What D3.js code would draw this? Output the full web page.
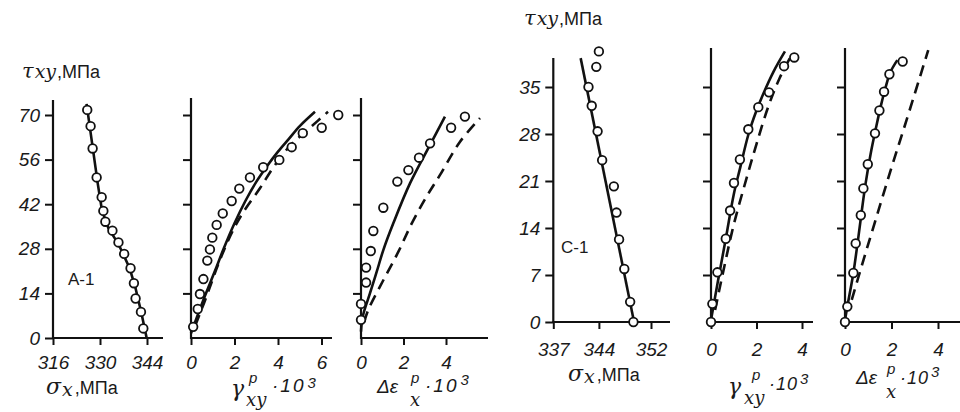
<!DOCTYPE html>
<html><head><meta charset="utf-8">
<script src="https://cdn.jsdelivr.net/npm/d3@7"></script>
<style>
html,body{margin:0;padding:0;background:#fff;}
svg{display:block;}
.tk text{font-family:"Liberation Sans",Arial,sans-serif;font-style:italic;font-size:19px;fill:#1a1a1a;}
.tk line{stroke:#111;stroke-width:2;}
</style>
</head><body>
<svg id="chart" width="960" height="412"></svg>
<script>
// ---- tick values ----
const tauTicksA = [0, 14, 28, 42, 56, 70];
const tauTicksC = [0, 7, 14, 21, 28, 35];
const sigmaTicksA = [316, 330, 344];
const gammaTicksA = [0, 2, 4, 6];
const epsTicksA = [0, 2, 4];
const sigmaTicksC = [337, 344, 352];
const gammaTicksC = [0, 2, 4];
const epsTicksC = [0, 2, 4];

// ---- A-1 data  [x, tau] ----
const a1SigmaPts = [[326.2,71.6],[327.2,66.5],[327.8,59.5],[329.0,50.4],[330.5,44.2],[331.0,39.9],[331.6,36.5],[333.7,33.7],[335.5,30.0],[337.2,26.4],[339.1,21.9],[340.1,17.2],[340.6,12.4],[342.2,8.2],[342.9,3.0]];
const a1SigmaLine = [[343.9,0],[342.3,8],[340.5,16],[338.8,22],[335.5,29.5],[332.5,34.5],[330.6,40],[329.4,48],[327.8,60],[326.0,73.5]];
const a1GammaPts = [[0.1,3.5],[0.31,9.1],[0.41,13.8],[0.57,18.5],[0.75,24.3],[0.87,27.8],[0.98,31.5],[1.18,35.5],[1.46,39.1],[1.87,43.0],[2.22,46.9],[2.71,50.4],[3.32,53.6],[4.06,55.9],[4.63,59.9],[5.14,64.3],[6.01,66.0],[6.77,70.0]];
const a1GammaSolid = [[0,1.5],[0.6,12.5],[1.1,21],[1.5,28],[2.0,36],[2.5,43],[3.0,49],[3.5,54],[4.0,58.5],[4.5,62.5],[5.0,66.5],[5.7,71]];
const a1GammaDashed = [[0.2,4],[0.6,11],[1.0,18.5],[1.33,24.5],[1.72,30.8],[2.1,36],[2.5,40.5],[3.17,47],[3.78,53.5],[4.55,60.3],[5.47,66],[6.3,71]];
const a1EpsPts = [[0.0,5.7],[0.0,10.7],[0.24,17.4],[0.24,22.1],[0.46,27.3],[0.58,33.6],[1.05,40.9],[1.71,49.1],[2.23,52.7],[2.73,56.6],[3.25,61.1],[4.24,66.0],[4.89,69.5]];
const a1EpsSolid = [[0.0,2],[0.08,6.7],[0.42,14],[0.74,20.8],[1.05,27.6],[1.52,36],[2.31,48.6],[3.25,60.6],[3.95,69.5]];
const a1EpsDashed = [[0.15,5],[0.34,8.8],[1.0,17.5],[1.76,27.1],[2.39,36.0],[3.05,44],[3.72,51.2],[4.66,61.6],[5.6,69.0]];

// ---- C-1 data  [x, tau] ----
const c1SigmaPts = [[344.0,40.3],[343.6,38.0],[342.4,35.0],[342.9,32.2],[343.8,28.4],[344.5,24.1],[346.3,20.2],[346.7,16.3],[347.1,12.3],[347.9,7.9],[348.8,3.0],[349.3,0]];
const c1SigmaLine = [[349.4,0],[341.2,39.3]];
const c1GammaPts = [[0,0],[0.06,2.7],[0.28,7.4],[0.65,12.4],[0.84,16.6],[1.01,20.7],[1.27,24.2],[1.64,28.7],[2.08,32.0],[2.55,34.2],[3.21,38.1],[3.66,39.4]];
const c1GammaSolid = [[0,0.3],[0.3,6],[0.65,12.4],[1.0,19],[1.27,22.8],[1.65,28],[2.0,31.5],[2.3,34],[2.75,37.3],[3.25,40.3]];
const c1GammaDashed = [[0.18,1.8],[0.6,8.5],[1.0,14.5],[1.57,21.5],[2.0,26.5],[2.52,32.1],[3.0,36.2],[3.55,39.8]];
const c1EpsPts = [[0,0],[0.10,2.3],[0.36,7.3],[0.46,11.7],[0.68,15.9],[0.79,19.9],[0.98,23.5],[1.29,28.1],[1.48,31.5],[1.68,34.3],[1.91,36.9],[2.48,38.8]];
const c1EpsSolid = [[0,0.3],[0.1,2.3],[0.36,7.3],[0.55,12],[0.72,16.5],[0.88,20.5],[1.1,25],[1.35,29.2],[1.55,32.3],[1.75,35],[1.95,37.2],[2.25,39.0]];
const c1EpsDashed = [[0.29,3.3],[0.8,9.3],[1.36,15.7],[2.0,23],[2.65,30.1],[3.58,40.5]];

const svg = d3.select("#chart");
const yA = d3.scaleLinear().domain([0, 70]).range([338, 115]);
const yC = d3.scaleLinear().domain([0, 35]).range([322, 87]);

const panels = [
  {x: d3.scaleLinear([316,344],[53,147]), y: yA, yTicks: tauTicksA, yLab: true, xTicks: sigmaTicksA, top: 100, right: 163, pad: 11,
   pts: a1SigmaPts, solid: a1SigmaLine, dashed: null, curve: d3.curveLinear},
  {x: d3.scaleLinear([0,6],[191,321.5]), y: yA, yTicks: tauTicksA.slice(1), yLab: false, xTicks: gammaTicksA, top: 98, right: 332, pad: 11,
   pts: a1GammaPts, solid: a1GammaSolid, dashed: a1GammaDashed, curve: d3.curveCatmullRom},
  {x: d3.scaleLinear([0,4],[361,446]), y: yA, yTicks: tauTicksA.slice(1), yLab: false, xTicks: epsTicksA, top: 98, right: 488, pad: 11,
   pts: a1EpsPts, solid: a1EpsSolid, dashed: a1EpsDashed, curve: d3.curveCatmullRom},
  {x: d3.scaleLinear([337,352],[553.3,651]), y: yC, yTicks: tauTicksC, yLab: true, xTicks: sigmaTicksC, top: 58, right: 670, pad: 14,
   pts: c1SigmaPts, solid: c1SigmaLine, dashed: null, curve: d3.curveLinear},
  {x: d3.scaleLinear([0,4],[711,802]), y: yC, yTicks: tauTicksC.slice(1), yLab: false, xTicks: gammaTicksC, top: 48, right: 813, pad: 14,
   pts: c1GammaPts, solid: c1GammaSolid, dashed: c1GammaDashed, curve: d3.curveCatmullRom},
  {x: d3.scaleLinear([0,4],[845,938]), y: yC, yTicks: tauTicksC.slice(1), yLab: false, xTicks: epsTicksC, top: 48, right: 965, pad: 14,
   pts: c1EpsPts, solid: c1EpsSolid, dashed: c1EpsDashed, curve: d3.curveCatmullRom}
];

panels.forEach(p => {
  const g = svg.append("g");
  const x0 = p.x.range()[0], y0 = p.y(0);
  const ya = g.append("g").attr("class","tk").attr("transform",`translate(${x0},0)`)
    .call(d3.axisLeft(p.y).tickValues(p.yTicks).tickSize(8).tickPadding(5).tickSizeOuter(0)
      .tickFormat(p.yLab ? d3.format("d") : () => ""));
  ya.select(".domain").remove();
  const xa = g.append("g").attr("class","tk").attr("transform",`translate(0,${y0})`)
    .call(d3.axisBottom(p.x).tickValues(p.xTicks).tickSize(7).tickPadding(p.pad).tickSizeOuter(0).tickFormat(d3.format("d")));
  xa.select(".domain").remove();
  g.append("line").attr("x1",x0).attr("x2",x0).attr("y1",p.top).attr("y2",y0+1)
    .attr("stroke","#111").attr("stroke-width",2.2);
  g.append("line").attr("x1",x0-1).attr("x2",p.right).attr("y1",y0).attr("y2",y0)
    .attr("stroke","#111").attr("stroke-width",2.2);
  const line = d3.line().x(d => p.x(d[0])).y(d => p.y(d[1])).curve(p.curve);
  if (p.dashed) g.append("path").attr("d", line(p.dashed)).attr("fill","none")
    .attr("stroke","#111").attr("stroke-width",2.6).attr("stroke-dasharray","11,7");
  g.append("path").attr("d", line(p.solid)).attr("fill","none")
    .attr("stroke","#111").attr("stroke-width",2.6);
  g.selectAll("circle").data(p.pts).join("circle")
    .attr("cx", d => p.x(d[0])).attr("cy", d => p.y(d[1])).attr("r", 4.3)
    .attr("fill","#fff").attr("stroke","#111").attr("stroke-width",1.8);
});

// ---- text labels ----
const SANS = '"Liberation Sans",Arial,sans-serif';
const SERIF = '"DejaVu Serif","Liberation Serif",serif';
function label(parts) {
  const t = svg.append("text").attr("fill","#1a1a1a");
  parts.forEach(q => {
    const s = t.append("tspan");
    if (q.x !== undefined) s.attr("x", q.x);
    if (q.dx !== undefined) s.attr("dx", q.dx);
    if (q.ls !== undefined) s.attr("letter-spacing", q.ls);
    s.attr("y", q.y).attr("font-family", q.f || SANS).attr("font-size", q.s || 18)
      .attr("font-style", q.i ? "italic" : "normal").text(q.t);
  });
}
// τxy, МПа
label([{t:"τ",x:22,y:78,s:21,i:1,f:SERIF},{t:"xy",dx:1,y:78,s:19,i:1,f:SERIF},{t:",МПа",dx:1,y:78,s:18}]);
label([{t:"τ",x:524,y:25,s:21,i:1,f:SERIF},{t:"xy",dx:1,y:25,s:19,i:1,f:SERIF},{t:",МПа",dx:1,y:25,s:18}]);
// σx, МПа
label([{t:"σ",x:46,y:394,s:22,i:1,f:SERIF},{t:"x",dx:1,y:396,s:19,i:1,f:SERIF},{t:",МПа",dx:2,y:394,s:18}]);
label([{t:"σ",x:568,y:381,s:22,i:1,f:SERIF},{t:"x",dx:1,y:383,s:19,i:1,f:SERIF},{t:",МПа",dx:2,y:381,s:18}]);
// γ^p_xy · 10^3
label([{t:"γ",x:231,y:396,s:22,i:1,f:SERIF},{t:"p",x:249,y:383,s:15,i:1},{t:"xy",x:246,y:406,s:18,i:1,f:SERIF},
       {t:"·10",x:272,y:392,s:19,i:1,ls:2},{t:"3",dx:2,y:388,s:15,i:1}]);
label([{t:"γ",x:728,y:394,s:22,i:1,f:SERIF},{t:"p",x:752,y:380,s:15,i:1},{t:"xy",x:744,y:404,s:18,i:1,f:SERIF},
       {t:"·10",x:769,y:390,s:18,i:1,ls:1},{t:"3",dx:2,y:384,s:15,i:1}]);
// Δε^p_x · 10^3
label([{t:"Δε",x:377,y:393,s:19,i:1},{t:"p",x:411,y:383,s:15,i:1},{t:"x",x:410,y:406,s:18,i:1,f:SERIF},
       {t:"·10",x:425,y:392,s:19,i:1,ls:2},{t:"3",dx:2,y:385,s:15,i:1}]);
label([{t:"Δε",x:856,y:384,s:19,i:1},{t:"p",x:887,y:374,s:15,i:1},{t:"x",x:886,y:398,s:18,i:1,f:SERIF},
       {t:"·10",x:900,y:384,s:18,i:1,ls:1},{t:"3",dx:2,y:377,s:15,i:1}]);
// specimen labels
label([{t:"А-1",x:68,y:285,s:17}]);
label([{t:"С-1",x:561,y:253,s:17}]);
</script>
</body></html>
